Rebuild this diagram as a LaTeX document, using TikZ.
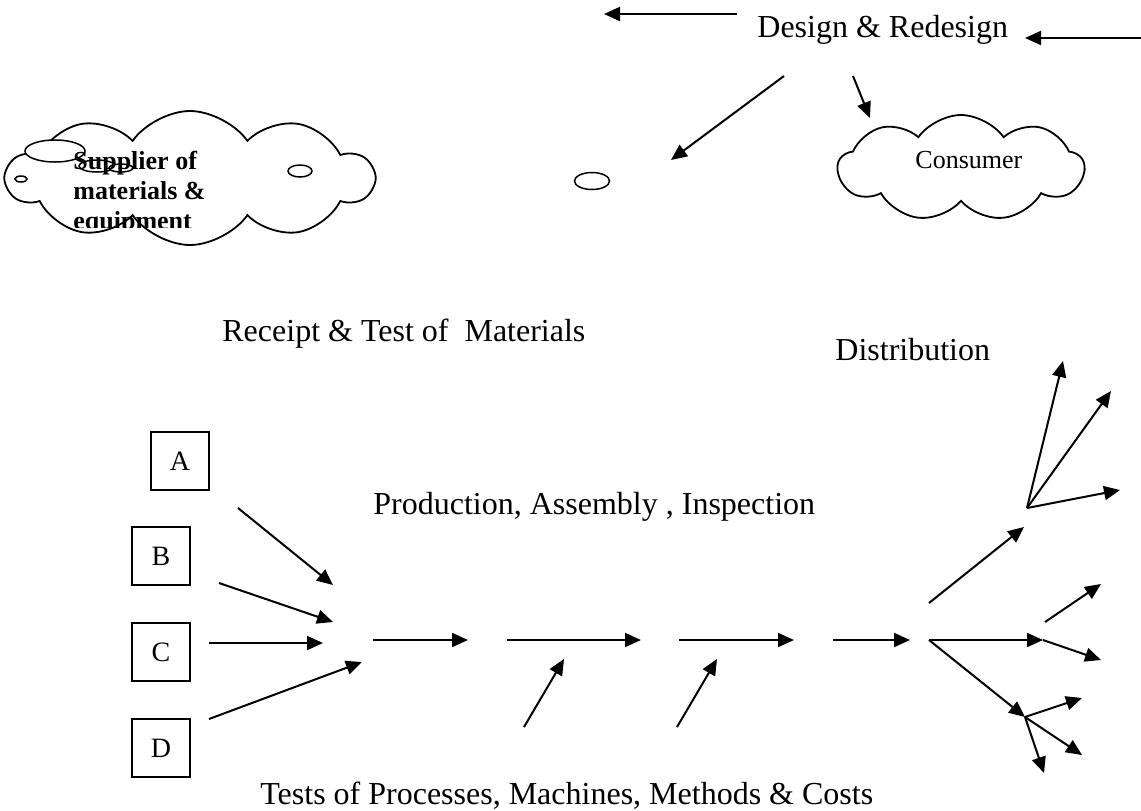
\documentclass[tikz,border=0pt]{standalone}
\usepackage{fontspec}
\setmainfont{Liberation Serif}
\usetikzlibrary{arrows.meta,shapes.symbols,shapes.geometric}

\begin{document}
\begin{tikzpicture}[x=0.5pt,y=-0.5pt]
            \useasboundingbox (0,0) rectangle (1141,810);

            \begin{scope}[every node/.style={cloud, draw, line width=0.9pt, fill=white, cloud ignores aspect, inner sep=0pt}]
                \node (supplier) [cloud puffs=10, cloud puff arc=110, minimum width=183pt, minimum height=67pt] at (190,178) {};
                \node (consumer) [cloud puffs=9, cloud puff arc=110, minimum width=123pt, minimum height=53pt] at (961,168) {};
            \end{scope}

            \begin{scope}[every node/.style={ellipse, draw, line width=0.75pt, fill=white, inner sep=0pt}]
                \node (bub1) [minimum width=30pt, minimum height=11pt] at (55,151) {};
                \node (bub2) [minimum width=18pt, minimum height=6pt] at (97,166) {};
                \node (bub3) [minimum width=12pt, minimum height=4pt] at (121,168) {};
                \node (bub4) [minimum width=6pt, minimum height=3pt] at (21,179) {};
                \node (bub5) [minimum width=12pt, minimum height=6pt] at (300,171) {};
                \node (bub6) [minimum width=17.5pt, minimum height=8.5pt] at (592,181) {};
            \end{scope}

            \begin{scope}
                \clip (60,120) rectangle (260,227);
                \node (suptext) [font=\fontsize{13}{15}\bfseries\selectfont, align=left, anchor=north west, inner sep=0pt] at (73,151) {Supplier of\\materials \&\\equipment};
            \end{scope}
            \node (cons) [font=\fontsize{13}{15}\selectfont, anchor=base west, inner sep=0pt] at (915,168) {Consumer};

            \begin{scope}[every node/.style={font=\fontsize{16}{19}\selectfont, anchor=base west, inner sep=0pt}]
                \node (design) at (757,37) {Design \& Redesign};
                \node (receipt) at (222,341) {Receipt \& Test of~ Materials};
                \node (distrib) at (835,360) {Distribution};
                \node (prod) at (373,514) {Production, Assembly , Inspection};
                \node (tests) at (260,804) {Tests of Processes, Machines, Methods \& Costs};
            \end{scope}

            \begin{scope}[every node/.style={draw, line width=0.75pt, minimum size=29pt, inner sep=0pt, font=\fontsize{14}{16}\selectfont}]
                \node (A) at (180,461) {A};
                \node (B) at (161,556) {B};
                \node (C) at (161,652) {C};
                \node (D) at (161,748) {D};
            \end{scope}

            % free ends of the arrows
            \coordinate (lt1) at (737,14);  \coordinate (lt2) at (604,14);
            \coordinate (rt1) at (1141,38); \coordinate (rt2) at (1025,38);
            \coordinate (dl1) at (784,76);  \coordinate (dl2) at (671,160);
            \coordinate (dr1) at (853,76);  \coordinate (dr2) at (870,118);
            \coordinate (a1) at (238,508);  \coordinate (a2) at (333,585);
            \coordinate (b1) at (219,583);  \coordinate (b2) at (333,622);
            \coordinate (c1) at (209,643);  \coordinate (c2) at (323,643);
            \coordinate (d1) at (209,719);  \coordinate (d2) at (362,662);
            \coordinate (m1) at (373,640);  \coordinate (m2) at (468,640);
            \coordinate (m3) at (507,640);  \coordinate (m4) at (641,640);
            \coordinate (m5) at (679,640);  \coordinate (m6) at (794,640);
            \coordinate (m7) at (833,640);  \coordinate (m8) at (910,640);
            \coordinate (t1) at (524,727);  \coordinate (t2) at (564,659);
            \coordinate (t3) at (677,727);  \coordinate (t4) at (717,659);
            \coordinate (j) at (929,640);
            \coordinate (u1) at (929,603);  \coordinate (u2) at (1024,527);
            \coordinate (h) at (1043,640);  \coordinate (w) at (1025,717);
            \coordinate (f) at (1027,508);
            \coordinate (f1) at (1063,361); \coordinate (f2) at (1111,391); \coordinate (f3) at (1120,490);
            \coordinate (g1) at (1101,660); \coordinate (g0) at (1045,622); \coordinate (g2) at (1101,584);
            \coordinate (k1) at (1082,698); \coordinate (k2) at (1082,755); \coordinate (k3) at (1044,773);

            \begin{scope}[>={Triangle[length=8pt,width=7pt]},
                          every edge/.style={draw=black,line width=1pt}]
                \path [->] (lt1) edge (lt2);
                \path [->] (rt1) edge (rt2);
                \path [->] (dl1) edge (dl2);
                \path [->] (dr1) edge (dr2);
                \path [->] (a1) edge (a2);
                \path [->] (b1) edge (b2);
                \path [->] (c1) edge (c2);
                \path [->] (d1) edge (d2);
                \path [->] (m1) edge (m2);
                \path [->] (m3) edge (m4);
                \path [->] (m5) edge (m6);
                \path [->] (m7) edge (m8);
                \path [->] (t1) edge (t2);
                \path [->] (t3) edge (t4);
                \path [->] (u1) edge (u2);
                \path [->] (j) edge (h);
                \path [->] (j) edge (w);
                \path [->] (f) edge (f1);
                \path [->] (f) edge (f2);
                \path [->] (f) edge (f3);
                \path [->] (h) edge (g1);
                \path [->] (g0) edge (g2);
                \path [->] (w) edge (k1);
                \path [->] (w) edge (k2);
                \path [->] (w) edge (k3);
            \end{scope}
        \end{tikzpicture}
\end{document}
